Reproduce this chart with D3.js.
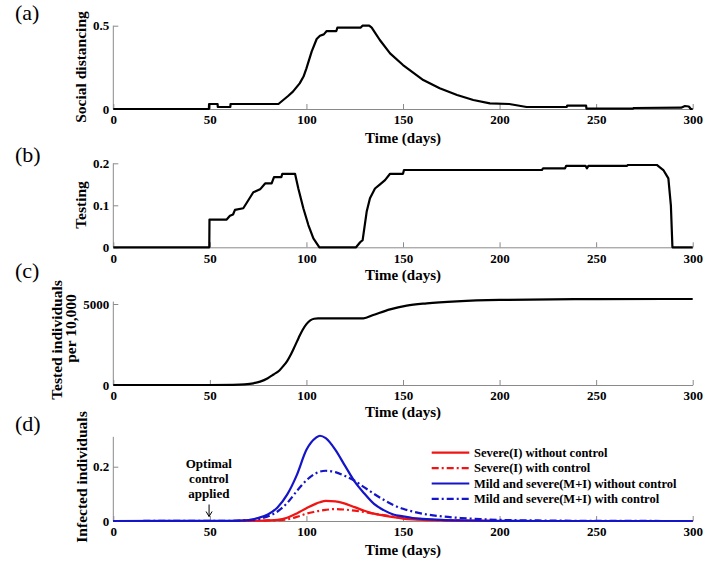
<!DOCTYPE html>
<html><head><meta charset="utf-8">
<script src="https://cdn.jsdelivr.net/npm/d3@7"></script>
<style>
html,body{margin:0;padding:0;background:#fff;}
svg{display:block;}
</style></head>
<body>
<svg id="chart" width="714" height="564"></svg>
<script>
// ---------- DATA ----------
const xTicks = [0, 50, 100, 150, 200, 250, 300];

// (a) social distancing control
const sdDays = [0,49.5,49.6,54,54.1,60.6,60.7,85.5,88,90.5,93,96.5,98.5,100,102.7,105.3,107,109,110.5,115.5,116,128,129,132.5,133.8,136,138,143.3,150,160.5,169,178,186.4,195,205,214,234.8,235,244.8,245,269,269.5,294,296,298,299,300];
const sdValues = [0,0,0.03,0.03,0.012,0.012,0.03,0.03,0.054,0.078,0.104,0.154,0.195,0.244,0.344,0.42,0.44,0.448,0.468,0.468,0.488,0.488,0.5,0.5,0.488,0.45,0.414,0.334,0.264,0.174,0.124,0.084,0.054,0.034,0.03,0.012,0.012,0.02,0.02,0.002,0.002,0.006,0.008,0.018,0.015,0,0];
const sdTicks = [0, 0.5];

// (b) testing control
const testDays = [0,49.7,49.8,58.7,60.4,62,63,67.3,69.1,72.5,76,78.6,82,83.2,87,87.5,94.1,95.8,98.4,101,103.6,106.7,125.7,127.8,129.1,131.2,132.9,135.5,138.1,140.7,143.3,150,150.5,221.9,222.5,233.9,234.5,244.5,245.2,246,265.9,266.5,281.4,284.8,287.4,288.7,289.5,300];
const testValues = [0,0,0.066,0.066,0.075,0.078,0.089,0.093,0.106,0.131,0.138,0.152,0.152,0.167,0.167,0.175,0.175,0.14,0.093,0.053,0.021,0,0,0.012,0.017,0.085,0.117,0.14,0.15,0.16,0.175,0.175,0.184,0.184,0.188,0.188,0.194,0.194,0.188,0.194,0.194,0.196,0.196,0.184,0.164,0.1,0,0];
const testTicks = [0, 0.1, 0.2];

// (c) tested individuals per 10,000
const testedDays = [0,50,62,68,72.5,76,80,83,86,88,90,92,94,96,98,100,102,104,106,129.5,134.6,143.3,151.9,162.3,177.8,200,250,300];
const testedValues = [0,0,10,40,105,210,420,650,900,1170,1480,1900,2400,2920,3400,3760,3990,4090,4117,4117,4320,4670,4900,5040,5165,5250,5300,5310];
const testedTicks = [0, 5000];

// (d) infected individuals
const infDays = [0,60,70,75,80,85,90,95,100,105,107,110,115,120,125,130,135,140,145,150,155,160,170,180,190,200,220,250,300];
const severeNoCtrl = [0,0,0.0005,0.001,0.002,0.004,0.012,0.028,0.047,0.064,0.069,0.074,0.072,0.064,0.051,0.038,0.027,0.02,0.014,0.009,0.006,0.004,0.002,0.001,0.0005,0,0,0,0];
const severeCtrl = [0,0,0.0005,0.001,0.002,0.003,0.006,0.015,0.027,0.035,0.038,0.041,0.044,0.042,0.038,0.033,0.027,0.022,0.016,0.012,0.009,0.006,0.003,0.001,0.0005,0,0,0,0];
const mildSevereNoCtrl = [0,0.0005,0.003,0.011,0.024,0.05,0.097,0.169,0.262,0.307,0.314,0.305,0.262,0.203,0.145,0.101,0.063,0.04,0.024,0.017,0.011,0.008,0.004,0.002,0.001,0.0005,0,0,0];
const mildSevereCtrl = [0,0.0007,0.003,0.007,0.017,0.035,0.066,0.11,0.15,0.176,0.182,0.185,0.18,0.166,0.148,0.124,0.1,0.078,0.059,0.045,0.035,0.027,0.017,0.011,0.007,0.004,0.002,0.0005,0];
const infTicks = [0, 0.2];
const legendLabels = ["Severe(I) without control","Severe(I) with control","Mild and severe(M+I) without control","Mild and severe(M+I) with control"];

// ---------- LAYOUT ----------
const FONT = "'Liberation Serif','Times New Roman',serif";
const svg = d3.select("#chart").attr("font-family", FONT);
const x = d3.scaleLinear().domain([0,300]).range([113.3, 692.7]);
const AX = "#8a8a8a";
const RED = "#f01414", BLUE = "#1414c8";

const panels = [
  {tag:"(a)", tagY:20, yDom:[0,0.5], yTop:0.5, yRange:[109,25.7], ticks:sdTicks, fmt:d=>d===0?"0":String(d),
   label:["Social distancing"], labelX:[86], labelYs:[67], xLabelY:143},
  {tag:"(b)", tagY:162, yDom:[0,0.2], yTop:0.2, yRange:[247.3,163.3], ticks:testTicks, fmt:d=>d===0?"0":String(d),
   label:["Testing"], labelX:[86], labelYs:[205], xLabelY:280},
  {tag:"(c)", tagY:278, yDom:[0,5000], yTop:5150, yRange:[385,304], ticks:testedTicks, fmt:d=>String(d),
   label:["Tested individuals","per 10,000"], labelX:[62,76], labelYs:[340,328.5], xLabelY:417},
  {tag:"(d)", tagY:431, yDom:[0,0.2], yTop:0.31, yRange:[521,466.7], ticks:infTicks, fmt:d=>d===0?"0":String(d),
   label:["Infected individuals"], labelX:[87], labelYs:[477], xLabelY:555}
];

panels.forEach(p => {
  p.y = d3.scaleLinear().domain(p.yDom).range(p.yRange);
  const g = svg.append("g");
  const xa = g.append("g").attr("transform",`translate(0,${p.y(0)})`)
    .call(d3.axisBottom(x).tickValues(xTicks).tickSize(-5).tickSizeOuter(0).tickPadding(6).tickFormat(d3.format("d")));
  const ya = g.append("g").attr("transform",`translate(${x(0)},0)`)
    .call(d3.axisLeft(p.y).tickValues(p.ticks).tickSize(-5).tickSizeOuter(0).tickPadding(4).tickFormat(p.fmt));
  ya.select(".domain").attr("d", `M0,${p.y(0)}V${p.y(p.yTop)}`);
  [xa, ya].forEach(a => {
    a.attr("font-family", FONT);
    a.select(".domain").attr("stroke", AX).attr("stroke-width", 1);
    a.selectAll(".tick line").attr("stroke", AX);
    a.selectAll(".tick text").attr("fill","#000").attr("font-size",13).attr("font-weight","bold")
      .attr("font-family", FONT);
  });
  g.append("text").attr("x", (x(0)+x(300))/2).attr("y", p.xLabelY).attr("text-anchor","middle")
    .attr("font-family", FONT).attr("font-size",15).attr("font-weight","bold").text("Time (days)");
  p.label.forEach((t,i) => {
    g.append("text").attr("transform",`translate(${p.labelX[i]},${p.labelYs[i]}) rotate(-90)`)
      .attr("text-anchor","middle").attr("font-family", FONT).attr("font-size",15.5).attr("font-weight","bold").text(t);
  });
  g.append("text").attr("x",15).attr("y",p.tagY).attr("font-family", FONT).attr("font-size",22).text(p.tag);
});

// ---------- LINES ----------
function drawLine(panel, days, vals, color, dash, curve){
  const line = d3.line().x(d=>x(d[0])).y(d=>panel.y(d[1])).curve(curve || d3.curveLinear);
  svg.append("path").datum(days.map((d,i)=>[d, vals[i]]))
    .attr("d", line).attr("fill","none").attr("stroke",color).attr("stroke-width",2.2)
    .attr("stroke-linejoin","round").attr("stroke-dasharray", dash || null);
}
drawLine(panels[0], sdDays, sdValues, "#000");
drawLine(panels[1], testDays, testValues, "#000");
drawLine(panels[2], testedDays, testedValues, "#000", null, d3.curveMonotoneX);

const DD = "7,3,2,3";
const infSeries = [
  {vals: severeNoCtrl, color: RED, dash: null},
  {vals: severeCtrl, color: RED, dash: DD},
  {vals: mildSevereNoCtrl, color: BLUE, dash: null},
  {vals: mildSevereCtrl, color: BLUE, dash: DD}
];
infSeries.forEach(s => drawLine(panels[3], infDays, s.vals, s.color, s.dash, d3.curveMonotoneX));

// legend
const lg = svg.append("g");
infSeries.forEach((s,i) => {
  const cy = 452.7 + i*15.4;
  lg.append("line").attr("x1",431.7).attr("x2",469.3).attr("y1",cy).attr("y2",cy)
    .attr("stroke",s.color).attr("stroke-width",2.2).attr("stroke-dasharray", s.dash);
  lg.append("text").attr("x",474).attr("y",cy+4.3).attr("font-family", FONT).attr("font-size",12.5).attr("font-weight","bold")
    .text(legendLabels[i]);
});

// annotation
const ann = svg.append("g");
["Optimal","control","applied"].forEach((t,i) => {
  ann.append("text").attr("x", x(50)-1).attr("y", 467.5 + i*15.2).attr("text-anchor","middle")
    .attr("font-family", FONT).attr("font-size",13).attr("font-weight","bold").text(t);
});
const ax0 = x(50)-0.8;
ann.append("path").attr("d",`M${ax0},504.5V516.5M${ax0-3},511.5L${ax0},516.5L${ax0+3},511.5`)
  .attr("fill","none").attr("stroke","#000").attr("stroke-width",1);
</script>
</body></html>
